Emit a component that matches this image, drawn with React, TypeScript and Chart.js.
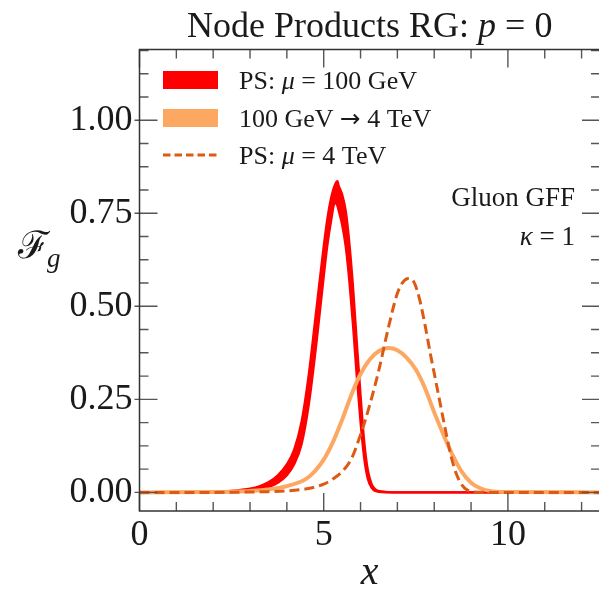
import React, { useEffect, useRef } from "react";
import { Chart, registerables } from "chart.js";

Chart.register(...registerables);

// ---------- data ----------
const redX = [0, 2.0, 2.5, 3.0, 3.25, 3.5, 3.75, 4.0, 4.2, 4.4, 4.6, 4.8, 5.0, 5.1, 5.2, 5.3, 5.375, 5.4, 5.5, 5.6, 5.7, 5.8, 5.9, 6.0, 6.1, 6.2, 6.3, 6.4, 6.6, 7.0, 12.5];
const redUpper = [0, 0.001, 0.004, 0.010, 0.016, 0.027, 0.045, 0.075, 0.115, 0.190, 0.320, 0.490, 0.660, 0.735, 0.790, 0.825, 0.836, 0.826, 0.800, 0.755, 0.665, 0.545, 0.400, 0.260, 0.135, 0.058, 0.022, 0.008, 0.002, 0, 0];
const redLower = [0, 0.000, 0.002, 0.005, 0.008, 0.014, 0.026, 0.046, 0.076, 0.130, 0.240, 0.400, 0.580, 0.665, 0.730, 0.778, 0.770, 0.760, 0.720, 0.660, 0.565, 0.445, 0.310, 0.190, 0.092, 0.036, 0.013, 0.004, 0.001, 0, 0];

const orangeX = [0, 2.0, 2.5, 3.0, 3.5, 4.0, 4.5, 4.75, 5.0, 5.25, 5.5, 5.75, 6.0, 6.25, 6.5, 6.75, 7.0, 7.25, 7.5, 7.75, 8.0, 8.25, 8.5, 8.75, 9.0, 9.25, 9.5, 10.0, 12.5];
const orangeY = [0, 0.001, 0.002, 0.004, 0.008, 0.017, 0.035, 0.056, 0.088, 0.135, 0.195, 0.262, 0.318, 0.357, 0.380, 0.388, 0.382, 0.362, 0.330, 0.280, 0.215, 0.155, 0.100, 0.055, 0.026, 0.011, 0.004, 0.001, 0];

const dashX = [0, 2.0, 3.0, 3.5, 4.0, 4.5, 4.75, 5.0, 5.25, 5.5, 5.75, 6.0, 6.25, 6.5, 6.75, 7.0, 7.15, 7.3, 7.45, 7.6, 7.75, 7.9, 8.0, 8.15, 8.3, 8.45, 8.6, 8.75, 8.9, 9.1, 9.5, 12.5];
const dashY = [0, 0.000, 0.001, 0.002, 0.004, 0.009, 0.014, 0.022, 0.036, 0.056, 0.090, 0.155, 0.235, 0.330, 0.440, 0.535, 0.565, 0.575, 0.565, 0.520, 0.450, 0.370, 0.320, 0.245, 0.170, 0.100, 0.050, 0.020, 0.006, 0.001, 0, 0];

const xMajorTicks = [0, 5, 10];
const yMajorTicks = [0, 0.25, 0.5, 0.75, 1.0];
const xMinorStep = 1;
const yMinorStep = 0.0625;

type Seg = { t: string; i?: boolean; f?: string; s?: number };

const legendLabels: Seg[][] = [
  [{ t: "PS: " }, { t: "μ", i: true }, { t: " = 100 GeV" }],
  [{ t: "100 GeV " }, { t: "→", f: "'DejaVu Sans', sans-serif", s: 0.95 }, { t: " 4 TeV" }],
  [{ t: "PS: " }, { t: "μ", i: true }, { t: " = 4 TeV" }],
];

const RED = "#ff0000";
const ORANGE = "#fda862";
const DARKOR = "#dd5a14";
const FONT = "'Liberation Serif', 'DejaVu Serif', serif";

function drawRich(ctx: CanvasRenderingContext2D, segs: Seg[], x: number, y: number, size: number, align: "left" | "center" | "right") {
  const fontFor = (s: Seg) => `${s.i ? "italic " : ""}${size * (s.s || 1)}px ${s.f || FONT}`;
  let total = 0;
  for (const s of segs) { ctx.font = fontFor(s); total += ctx.measureText(s.t).width; }
  let cx = align === "left" ? x : align === "center" ? x - total / 2 : x - total;
  ctx.textAlign = "left";
  ctx.textBaseline = "alphabetic";
  for (const s of segs) {
    ctx.font = fontFor(s);
    ctx.fillText(s.t, cx, y);
    cx += ctx.measureText(s.t).width;
  }
}

const decorPlugin = {
  id: "decor",
  afterDraw(chart: any) {
    const ctx: CanvasRenderingContext2D = chart.ctx;
    const { left, right, top, bottom } = chart.chartArea;
    const xs = chart.scales.x;
    const ys = chart.scales.y;
    ctx.save();
    // ticks
    ctx.strokeStyle = "#555555";
    ctx.lineWidth = 1.4;
    ctx.beginPath();
    for (let v = xs.min; v <= xs.max + 1e-9; v += xMinorStep) {
      const px = xs.getPixelForValue(v);
      const major = xMajorTicks.some((m) => Math.abs(m - v) < 1e-9);
      const len = major ? 18 : 9;
      ctx.moveTo(px, bottom); ctx.lineTo(px, bottom - len);
      ctx.moveTo(px, top); ctx.lineTo(px, top + len);
    }
    for (let k = 0; k * yMinorStep <= ys.max + 1e-9; k++) {
      const v = k * yMinorStep;
      const py = ys.getPixelForValue(v);
      const major = yMajorTicks.some((m) => Math.abs(m - v) < 1e-9);
      const len = major ? 18 : 9;
      ctx.moveTo(left - (major ? 5 : 0), py); ctx.lineTo(left + len, py);
      ctx.moveTo(right, py); ctx.lineTo(right - len, py);
    }
    ctx.stroke();
    // frame
    ctx.strokeStyle = "#333333";
    ctx.lineWidth = 1.5;
    ctx.strokeRect(left, top, right - left, bottom - top);

    ctx.fillStyle = "#1a1a1a";
    const cxp = (left + right) / 2;
    // title
    drawRich(ctx, [{ t: "Node Products RG: " }, { t: "p", i: true }, { t: " = 0" }], cxp, 37, 36, "center");
    // x label
    drawRich(ctx, [{ t: "x", i: true }], cxp, 584, 40, "center");
    // y label
    drawRich(ctx, [{ t: "ℱ" }], 18, 258, 38, "left");
    drawRich(ctx, [{ t: "g", i: true }], 47, 267, 27, "left");
    // annotation
    drawRich(ctx, [{ t: "Gluon GFF" }], 575, 206, 27, "right");
    drawRich(ctx, [{ t: "κ", i: true }, { t: " = 1" }], 575, 245, 27, "right");
    // legend
    const lx0 = 163, lx1 = 218, tx = 239;
    const rows = [80, 118, 155];
    ctx.fillStyle = RED;
    ctx.fillRect(lx0, rows[0] - 9, lx1 - lx0, 18);
    ctx.fillStyle = ORANGE;
    ctx.fillRect(lx0, rows[1] - 9, lx1 - lx0, 18);
    ctx.strokeStyle = DARKOR;
    ctx.lineWidth = 2.8;
    ctx.setLineDash([7.5, 4]);
    ctx.beginPath();
    ctx.moveTo(lx0, rows[2]); ctx.lineTo(lx1, rows[2]);
    ctx.stroke();
    ctx.setLineDash([]);
    ctx.fillStyle = "#1a1a1a";
    legendLabels.forEach((segs, i) => drawRich(ctx, segs, tx, rows[i] + 9, 26, "left"));
    ctx.restore();
  },
};

const pts = (xs: number[], ys: number[]) => xs.map((x, i) => ({ x, y: ys[i] }));

export default function App() {
  const ref = useRef<HTMLCanvasElement>(null);
  useEffect(() => {
    if (!ref.current) return;
    const chart = new Chart(ref.current, {
      type: "line",
      data: {
        datasets: [
          { label: "PS upper", data: pts(redX, redUpper), borderColor: RED, backgroundColor: RED, borderWidth: 2.4, pointRadius: 0, fill: "+1", cubicInterpolationMode: "monotone", order: 2 } as any,
          { label: "PS lower", data: pts(redX, redLower), borderColor: RED, backgroundColor: RED, borderWidth: 2.4, pointRadius: 0, fill: false, cubicInterpolationMode: "monotone", order: 2 } as any,
          { label: "100 GeV → 4 TeV", data: pts(orangeX, orangeY), borderColor: ORANGE, borderWidth: 4, pointRadius: 0, fill: false, cubicInterpolationMode: "monotone", order: 1 } as any,
          { label: "PS: μ = 4 TeV", data: pts(dashX, dashY), borderColor: DARKOR, borderWidth: 3, borderDash: [10, 5], pointRadius: 0, fill: false, cubicInterpolationMode: "monotone", order: 0 } as any,
        ],
      },
      options: {
        animation: false,
        responsive: false,
        devicePixelRatio: 1,
        layout: { padding: { left: 0, right: 2, top: 49.5, bottom: 0 } },
        plugins: { legend: { display: false }, title: { display: false }, tooltip: { enabled: false } },
        scales: {
          x: {
            type: "linear",
            min: 0,
            max: 12.5,
            grid: { display: false, drawTicks: false },
            border: { display: false },
            afterBuildTicks: (s: any) => { s.ticks = xMajorTicks.map((v) => ({ value: v })); },
            afterFit: (s: any) => { s.height = 80; },
            ticks: { font: { family: FONT, size: 36 }, color: "#1a1a1a", padding: 3, maxRotation: 0 },
          },
          y: {
            type: "linear",
            min: -0.05,
            max: 1.19,
            grid: { display: false, drawTicks: false },
            border: { display: false },
            afterBuildTicks: (s: any) => { s.ticks = yMajorTicks.map((v) => ({ value: v })); },
            afterFit: (s: any) => { s.width = 139.5; },
            ticks: { font: { family: FONT, size: 36 }, color: "#1a1a1a", padding: 7, callback: (v: any) => Number(v).toFixed(2) },
          },
        },
      },
      plugins: [decorPlugin],
    });
    return () => chart.destroy();
  }, []);
  return (
    <div style={{ position: "fixed", left: 0, top: 0, width: 599, height: 591, overflow: "hidden", background: "#fff" }}>
      <canvas ref={ref} width={602} height={591} style={{ width: 602, height: 591, display: "block" }} />
    </div>
  );
}
